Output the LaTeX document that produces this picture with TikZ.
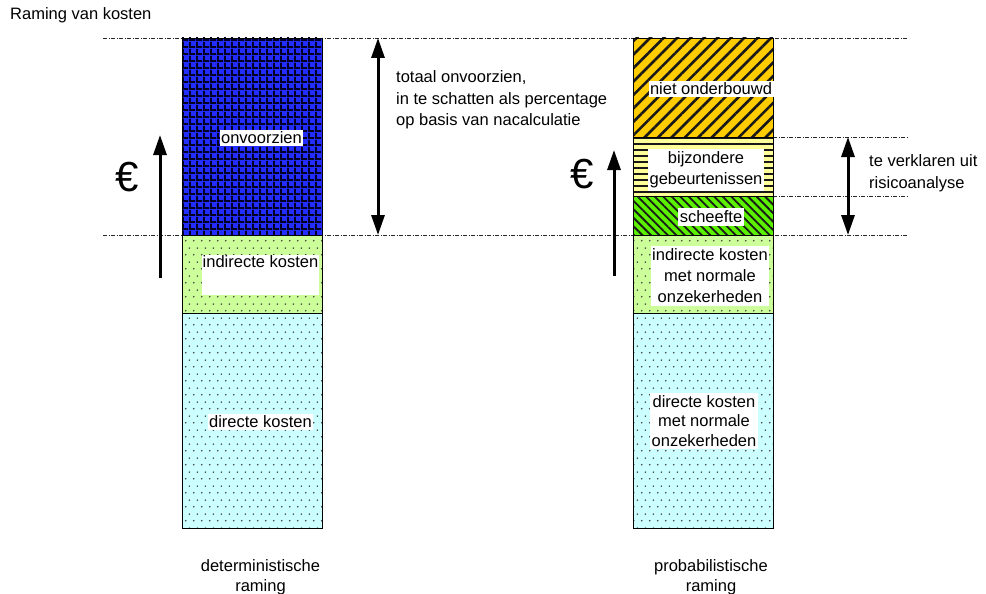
\documentclass[tikz,border=0pt]{standalone}
\usepackage{fontspec}
\setmainfont{Liberation Sans}
\usetikzlibrary{patterns,patterns.meta,arrows.meta}
\definecolor{cBlue}{RGB}{35,45,255}
\definecolor{cOrange}{RGB}{255,204,0}
\definecolor{cYellow}{RGB}{255,255,153}
\definecolor{cGreen}{RGB}{90,240,0}
\definecolor{cLgreen}{RGB}{204,255,153}
\definecolor{cCyan}{RGB}{204,255,255}
\pgfdeclarepatternformonly{stagdots}{\pgfpointorigin}{\pgfpoint{8pt}{14pt}}{\pgfpoint{8pt}{14pt}}{%
  \pgfpathcircle{\pgfpoint{2pt}{3.5pt}}{0.95pt}%
  \pgfpathcircle{\pgfpoint{6pt}{10.5pt}}{0.95pt}%
  \pgfusepath{fill}}
\pgfdeclarepatternformonly{bgrid}{\pgfpointorigin}{\pgfpoint{7pt}{7pt}}{\pgfpoint{7pt}{7pt}}{%
  \pgfpathrectangle{\pgfpoint{0pt}{0pt}}{\pgfpoint{7pt}{2pt}}%
  \pgfpathrectangle{\pgfpoint{0pt}{0pt}}{\pgfpoint{2pt}{7pt}}%
  \pgfusepath{fill}}
\tikzset{
  seg/.style={draw=black, line width=0.8pt, preaction={fill=#1}},
  gridfill/.style={seg=cBlue, pattern=bgrid, pattern color=black!85!blue},
  orangefill/.style={seg=cOrange, pattern={Lines[angle=45,distance=9.5pt,line width=2.6pt]}, pattern color=black!90},
  yellowfill/.style={seg=cYellow, pattern={Lines[angle=0,distance=6pt,line width=1.5pt]}, pattern color=black!90},
  greenfill/.style={seg=cGreen, pattern={Lines[angle=-45,distance=6pt,line width=1.8pt]}, pattern color=black!90},
  lgreenfill/.style={seg=cLgreen, pattern=stagdots, pattern color=black!75},
  cyanfill/.style={seg=cCyan, pattern=stagdots, pattern color=black!75},
  guide/.style={line width=0.6pt, black!85, dash pattern=on 4pt off 1.5pt on 1pt off 1.5pt},
  lbl/.style={fill=white, inner xsep=1.5pt, inner ysep=2pt, align=center, font=\fontsize{16.5}{21}\selectfont},
  txt/.style={inner sep=0pt, align=left, anchor=west, font=\fontsize{16.5}{21.5}\selectfont},
  bigarrow/.style={line width=3pt, -{Triangle[width=13pt,length=20pt]}},
  dblarrow/.style={line width=3pt, {Triangle[width=13pt,length=20pt]}-{Triangle[width=13pt,length=20pt]}},
  euro/.style={inner sep=0pt, font=\fontsize{42}{42}\selectfont}
}
\begin{document}
\begin{tikzpicture}[x=1pt,y=-1pt]
\useasboundingbox (0,0) rectangle (986,594);
% levels
\coordinate (t0L) at (103,38);
\coordinate (t0R) at (908,38);
\coordinate (t1L) at (103,235);
\coordinate (t1R) at (908,235);
\coordinate (r1a) at (773,137);
\coordinate (r1b) at (908,137);
\coordinate (r2a) at (773,196);
\coordinate (r2b) at (908,196);
\draw[guide] (t0L) -- (t0R);
\draw[guide] (t1L) -- (t1R);
\draw[guide] (r1a) -- (r1b);
\draw[guide] (r2a) -- (r2b);

\node[txt] (title) at (10,15) {Raming van kosten};

% left column
\path[cyanfill] (182,313) rectangle (322,528);
\path[lgreenfill] (182,235) rectangle (322,313);
\path[gridfill] (182,38) rectangle (322,235);
% right column
\path[cyanfill] (633,313) rectangle (773,528);
\path[lgreenfill] (633,235) rectangle (773,313);
\path[greenfill] (633,196) rectangle (773,235);
\path[yellowfill] (633,137) rectangle (773,196);
\path[orangefill] (633,38) rectangle (773,137);

% labels in columns
\node[lbl] (onv) at (261.5,138) {onvoorzien};
\node[lbl, inner sep=0pt, minimum width=117pt, minimum height=40pt] (indL) at (260.5,275)
  {\parbox[c][40pt][t]{117pt}{\centering\vspace{1pt}indirecte kosten}};
\node[lbl] (dirL) at (260.5,422) {directe kosten};
\node[lbl] (niet) at (711,89) {niet onderbouwd};
\node[lbl, inner ysep=3pt] (bijz) at (706,170) {bijzondere\\gebeurtenissen};
\node[lbl, inner ysep=3pt] (schf) at (711,217) {scheefte};
\node[lbl, inner ysep=3pt] (indR) at (710,276) {indirecte kosten\\met normale\\onzekerheden};
\node[lbl, font=\fontsize{16.5}{19.5}\selectfont] (dirR) at (704,421) {directe kosten\\met normale\\onzekerheden};

% bottom labels
\node[align=center, font=\fontsize{16.5}{20}\selectfont] (detL) at (260.5,577) {deterministische\\raming};
\node[align=center, font=\fontsize{16.5}{20}\selectfont] (proL) at (711,577) {probabilistische\\raming};

% side texts
\node[txt] (totaal) at (396,100) {totaal onvoorzien,\\in te schatten als percentage\\op basis van nacalculatie};
\node[txt] (verkl) at (869,173) {te verklaren uit\\risicoanalyse};

% euro signs and arrows
\node[euro] (eurL) at (127,177) {€};
\node[euro] (eurR) at (582,174) {€};
\coordinate (aL0) at (160,278);
\coordinate (aL1) at (160,135);
\coordinate (aR0) at (614,276);
\coordinate (aR1) at (614,150);
\draw[bigarrow] (aL0) -- (aL1);
\draw[bigarrow] (aR0) -- (aR1);
\coordinate (dL0) at (378,38);
\coordinate (dL1) at (378,235);
\coordinate (dR0) at (848,137);
\coordinate (dR1) at (848,235);
\draw[dblarrow] (dL0) -- (dL1);
\draw[dblarrow] (dR0) -- (dR1);
\end{tikzpicture}
\end{document}
